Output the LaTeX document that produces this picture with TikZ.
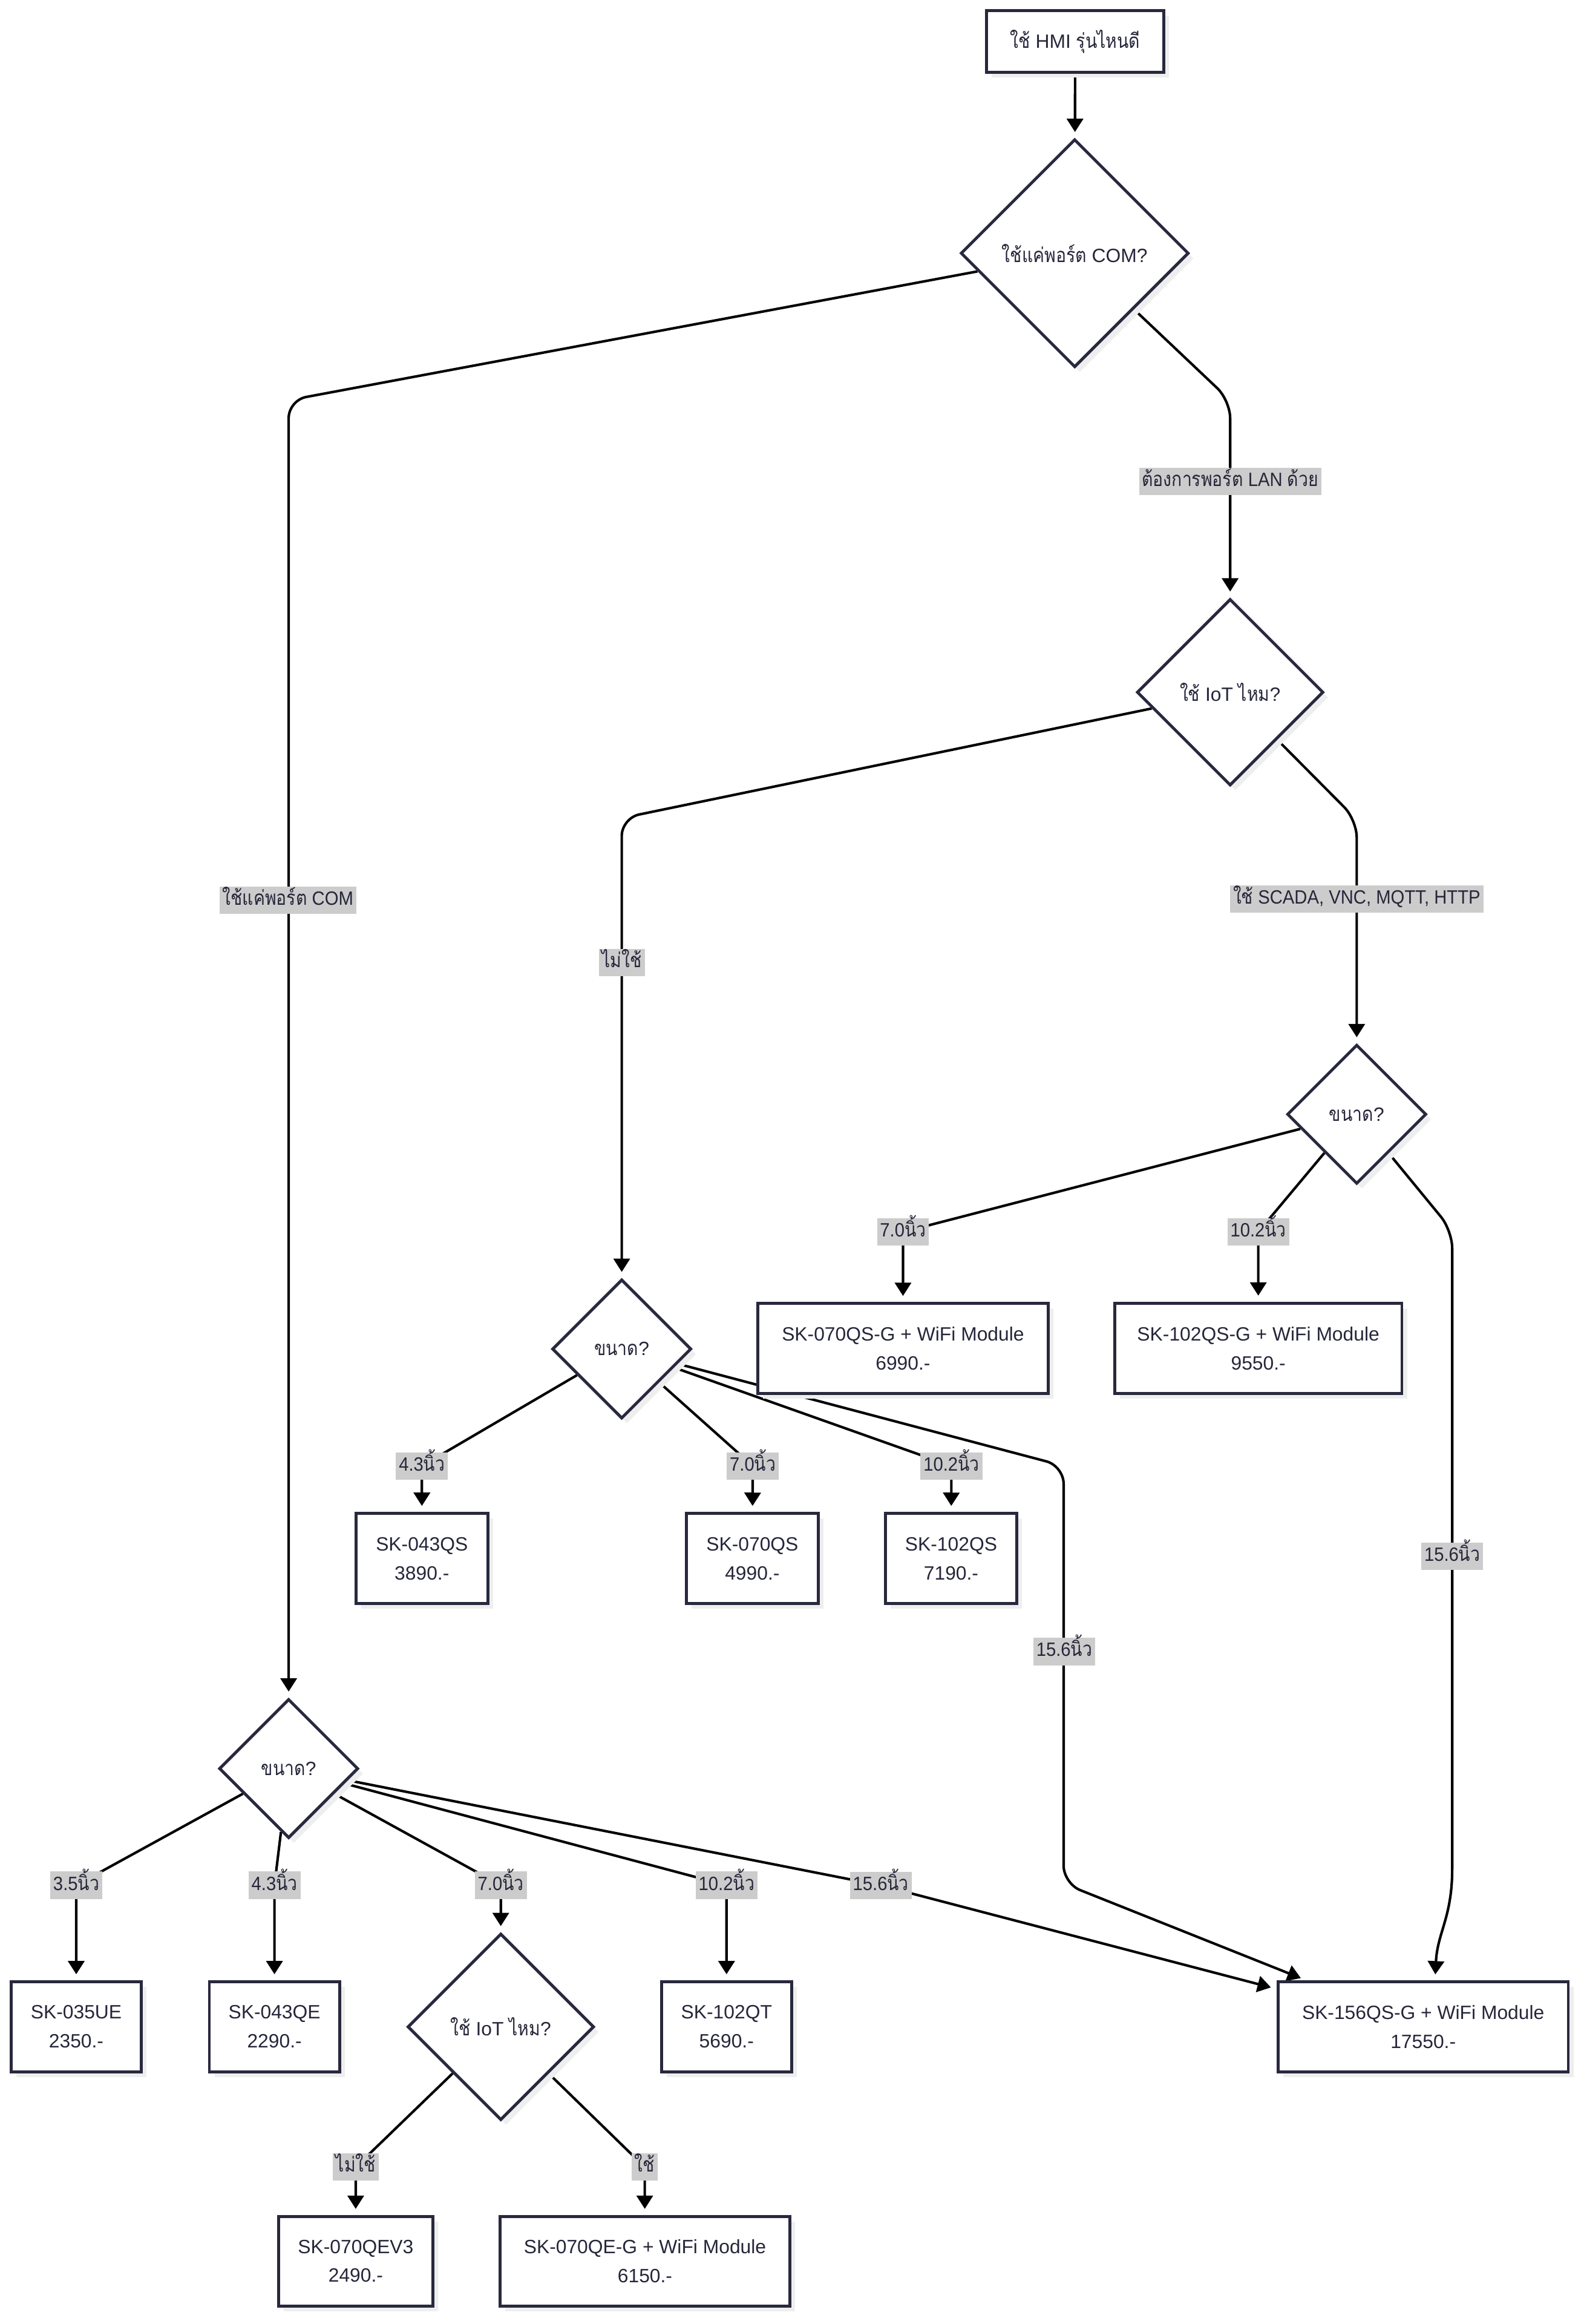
\documentclass[tikz,border=0pt]{standalone}
\usepackage{fontspec}
\setmainfont{Liberation Sans}
\newfontfamily\lblfont[FakeStretch=0.92]{Liberation Sans}
\newfontfamily\thaifont[Script=Thai,Scale=1.05,FakeStretch=0.85]{Loma}
\newcommand{\thx}[1]{{\thaifont #1}}
\usetikzlibrary{shapes.geometric,arrows.meta,shadows}
\pgfdeclarelayer{bg}
\pgfsetlayers{bg,main}
\definecolor{nodeline}{RGB}{40,40,62}
\definecolor{txt}{RGB}{38,38,58}
\definecolor{lblbg}{RGB}{204,204,204}
\definecolor{shadowc}{RGB}{238,238,238}
\tikzset{
  nshadow/.style={drop shadow={shadow xshift=3.5pt,shadow yshift=-3.5pt,opacity=1,fill=shadowc}},
  box/.style={draw=nodeline, line width=2pt, fill=white, rectangle, inner sep=0pt,
    align=center, text=txt, font=\fontsize{13}{19.6}\selectfont, nshadow},
  dia/.style={draw=nodeline, line width=2pt, fill=white, diamond, inner sep=0pt,
    align=center, text=txt, font=\fontsize{13}{16}\selectfont, nshadow},
  lbl/.style={fill=lblbg, text=txt, font=\lblfont\fontsize{13}{15}\selectfont,
    inner xsep=2pt, inner ysep=2.5pt, text height=10pt, text depth=3.5pt},
  arr/.style={line width=1.7pt, draw=black, -{Triangle[length=9pt,width=11pt]}, shorten >=4pt},
  rc/.style={rounded corners=12pt},
}
\begin{document}
\begin{tikzpicture}[x=1pt,y=1pt]
\useasboundingbox (0,0) rectangle (1070,-1569.5);

% ---------- decision nodes ----------
\node[box, minimum width=120pt, minimum height=41.6pt] (top) at (726.3,-28.1) {\thx{ใช้} HMI \thx{รุ่นไหนดี}};
\node[dia, minimum width=154pt, minimum height=154pt] (d1) at (726,-171) {\thx{ใช้แค่พอร์ต} COM?};
\node[dia, minimum width=126pt, minimum height=126pt] (d2) at (831,-467.5) {\thx{ใช้} IoT \thx{ไหม}?};
\node[dia, minimum width=94pt, minimum height=94pt] (d3) at (916.5,-752.5) {\thx{ขนาด}?};
\node[dia, minimum width=94pt, minimum height=94pt] (d4) at (420,-911) {\thx{ขนาด}?};
\node[dia, minimum width=94pt, minimum height=94pt] (d5) at (195,-1194.4) {\thx{ขนาด}?};
\node[dia, minimum width=126pt, minimum height=126pt] (d6) at (338.3,-1368.8) {\thx{ใช้} IoT \thx{ไหม}?};

% ---------- product boxes ----------
\node[box, minimum width=196pt, minimum height=61pt] (b3a) at (610,-910.7) {SK-070QS-G + WiFi Module\\6990.-};
\node[box, minimum width=194pt, minimum height=61pt] (b3b) at (850,-910.5) {SK-102QS-G + WiFi Module\\9550.-};
\node[box, minimum width=89pt, minimum height=61pt] (b043s) at (285,-1052.5) {SK-043QS\\3890.-};
\node[box, minimum width=89pt, minimum height=61pt] (b070s) at (508.2,-1052.5) {SK-070QS\\4990.-};
\node[box, minimum width=89pt, minimum height=61pt] (b102s) at (642.5,-1052.5) {SK-102QS\\7190.-};
\node[box, minimum width=88pt, minimum height=61pt] (b035) at (51.5,-1368.8) {SK-035UE\\2350.-};
\node[box, minimum width=88pt, minimum height=61pt] (b043e) at (185.4,-1368.8) {SK-043QE\\2290.-};
\node[box, minimum width=88pt, minimum height=61pt] (b102t) at (490.8,-1368.8) {SK-102QT\\5690.-};
\node[box, minimum width=196pt, minimum height=61pt] (b156) at (961.4,-1368.9) {SK-156QS-G + WiFi Module\\17550.-};
\node[box, minimum width=104pt, minimum height=60.5pt] (b070qev3) at (240.3,-1527) {SK-070QEV3\\2490.-};
\node[box, minimum width=195.6pt, minimum height=60.5pt] (b070qeg) at (435.7,-1527) {SK-070QE-G + WiFi Module\\6150.-};

% ---------- edge labels ----------
\node[lbl] (lcom) at (194.5,-608) {\thx{ใช้แค่พอร์ต} COM};
\node[lbl] (llan) at (831,-325) {\thx{ต้องการพอร์ต} LAN \thx{ด้วย}};
\node[lbl] (lno1) at (420,-650) {\thx{ไม่ใช้}};
\node[lbl] (liot) at (916.5,-607) {\thx{ใช้} SCADA, VNC, MQTT, HTTP};
\node[lbl] (l3a) at (610,-832) {7.0\thx{นิ้ว}};
\node[lbl] (l3b) at (850,-832) {10.2\thx{นิ้ว}};
\node[lbl] (l3c) at (981,-1051) {15.6\thx{นิ้ว}};
\node[lbl] (l4a) at (285,-990) {4.3\thx{นิ้ว}};
\node[lbl] (l4b) at (508.5,-990) {7.0\thx{นิ้ว}};
\node[lbl] (l4c) at (642.7,-990) {10.2\thx{นิ้ว}};
\node[lbl] (l4d) at (718.9,-1115.4) {15.6\thx{นิ้ว}};
\node[lbl] (l5a) at (51.5,-1273.2) {3.5\thx{นิ้ว}};
\node[lbl] (l5b) at (185.4,-1273.2) {4.3\thx{นิ้ว}};
\node[lbl] (l5c) at (338.3,-1273.2) {7.0\thx{นิ้ว}};
\node[lbl] (l5d) at (490.8,-1273.2) {10.2\thx{นิ้ว}};
\node[lbl] (l5e) at (595,-1273.3) {15.6\thx{นิ้ว}};
\node[lbl] (l6a) at (240.3,-1463.5) {\thx{ไม่ใช้}};
\node[lbl] (l6b) at (435.5,-1463.5) {\thx{ใช้}};

% ---------- connectors ----------
\begin{pgfonlayer}{bg}
\fill[white] (0,0) rectangle (1070,-1569.5);
\draw[arr] (top) -- (d1);
\draw[arr,rc] (d1) -- (195,-270.3) -- (d5);
\draw[arr,rc] (d1) -- (831,-270.4) -- (d2);
\draw[arr,rc] (d2) -- (420,-552.5) -- (d4);
\draw[arr,rc] (d2) -- (916.5,-553.6) -- (d3);
\draw[arr] (d3) -- (l3a.center) -- (b3a);
\draw[arr] (d3) -- (l3b.center) -- (b3b);
\draw[arr,rc] (d3) -- (981,-831) -- (981,-1250) .. controls (981,-1295) and (971,-1305) .. ([xshift=8pt]b156.north);
\draw[arr] (d4) -- (l4a.center) -- (b043s);
\draw[arr] (d4) -- (l4b.center) -- (b070s);
\draw[arr] (d4) -- (l4c.center) -- (b102s);
\draw[arr,rc] (d4) -- (718.5,-990) -- (718.5,-1272) -- (b156);
\draw[arr] (d5) -- (l5a.center) -- (b035);
\draw[arr] (d5) -- (l5b.center) -- (b043e);
\draw[arr] (d5) -- (l5c.center) -- (d6);
\draw[arr] (d5) -- (l5d.center) -- (b102t);
\draw[arr] (d5) -- (l5e.center) -- (b156);
\draw[arr] (d6) -- (l6a.center) -- (b070qev3);
\draw[arr] (d6) -- (l6b.center) -- (b070qeg);
\end{pgfonlayer}
\end{tikzpicture}
\end{document}
